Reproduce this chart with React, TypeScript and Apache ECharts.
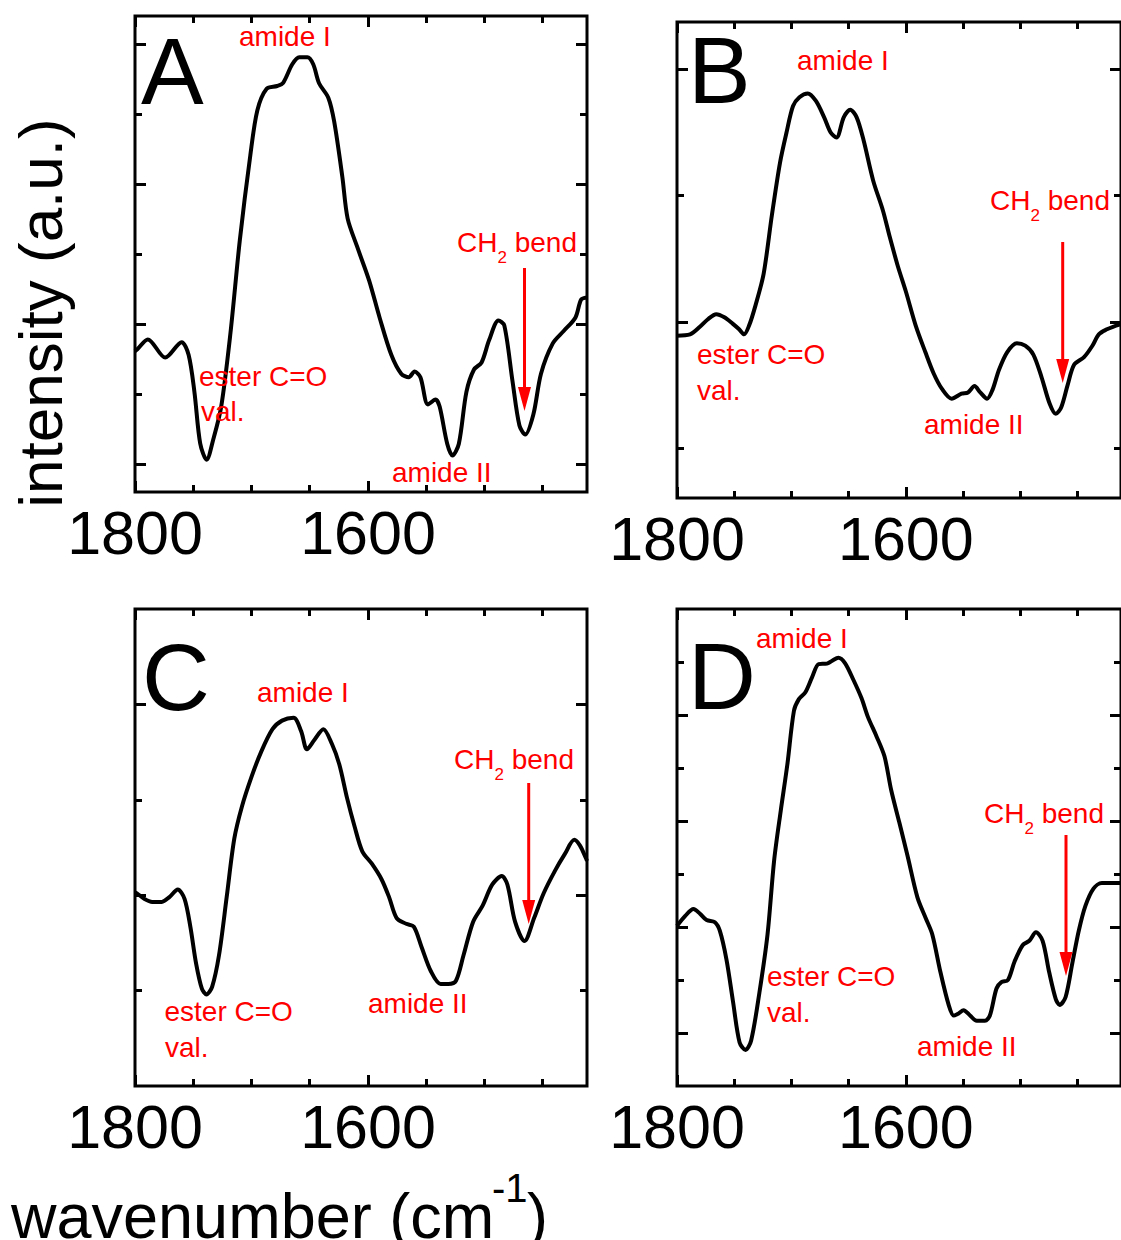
import React, { useEffect, useRef } from 'react';
import * as echarts from 'echarts';

// ---------- data (wavenumber cm^-1, intensity in tick units) ----------
const X_MIN = 1412;
const X_MAX = 1800;
const X_MAJOR_TICKS = [1600, 1800];
const X_MINOR_TICKS = [1450, 1500, 1550, 1650, 1700, 1750];
const X_LABELS = [1600, 1800];

const SPECTRUM_A: [number, number][] = [
  [1800, 1.61], [1798, 1.64], [1789, 1.78], [1774, 1.52], [1760, 1.74], [1754, 1.56],
  [1749, 1.03], [1744, 0.29], [1738.5, 0.06], [1733, 0.34], [1726, 0.82], [1718, 1.88],
  [1710, 3.2], [1701, 4.41], [1695, 5.05], [1687, 5.36], [1678, 5.4], [1673, 5.44],
  [1665, 5.71], [1659, 5.81], [1652, 5.81], [1647, 5.71], [1642, 5.44], [1634, 5.23],
  [1629, 4.89], [1622, 4.1], [1617.5, 3.51], [1609, 3.09], [1599, 2.62], [1590, 2.09],
  [1580, 1.56], [1571.5, 1.29], [1565, 1.24], [1560, 1.32], [1555, 1.24], [1548.5, 0.85],
  [1542, 0.92], [1538.5, 0.82], [1532, 0.29], [1527.5, 0.12], [1522, 0.29], [1515.5, 1.03],
  [1509, 1.35], [1502.5, 1.45], [1496, 1.77], [1488, 2.05], [1483, 1.98], [1476, 1.19],
  [1470, 0.55], [1465, 0.42], [1458, 0.71], [1451.5, 1.29], [1441.5, 1.72], [1432, 1.9],
  [1422, 2.09], [1417, 2.35], [1412, 2.38],
];

const SPECTRUM_B: [number, number][] = [
  [1800, 0.89], [1788.6, 0.9], [1780, 0.96], [1773, 1.02], [1765.7, 1.06], [1758.6, 1.035],
  [1751.4, 0.985], [1745.7, 0.94], [1741.4, 0.9], [1737, 0.97], [1731.4, 1.13], [1724.3, 1.38],
  [1717, 1.85], [1710, 2.26], [1704.3, 2.5], [1698.6, 2.71], [1693, 2.78], [1685.7, 2.81],
  [1678.6, 2.75], [1671.4, 2.62], [1665.7, 2.5], [1660.6, 2.46], [1654.3, 2.62], [1648.6, 2.68],
  [1643, 2.62], [1637, 2.44], [1628.6, 2.12], [1620, 1.88], [1614.3, 1.68], [1607, 1.44],
  [1600, 1.24], [1591.4, 0.97], [1583, 0.76], [1575.7, 0.59], [1568.6, 0.47], [1560, 0.39],
  [1551.4, 0.43], [1545.7, 0.44], [1540, 0.49], [1535, 0.44], [1529, 0.39], [1524.3, 0.46],
  [1518.6, 0.62], [1511.4, 0.76], [1503, 0.83], [1495.7, 0.81], [1488.6, 0.74], [1481.4, 0.56],
  [1474.3, 0.35], [1469, 0.27], [1464.3, 0.32], [1458.6, 0.5], [1453, 0.66], [1444.3, 0.72],
  [1437, 0.81], [1431.4, 0.9], [1424.3, 0.94], [1419, 0.96], [1412, 0.98],
];

const SPECTRUM_C: [number, number][] = [
  [1800, 2.03], [1798.4, 2.02], [1791.8, 1.96], [1785.2, 1.93], [1777, 1.93], [1770.5, 1.98],
  [1763.3, 2.06], [1757.4, 1.96], [1752.5, 1.67], [1747.5, 1.28], [1742.6, 1.02], [1738.7, 0.96],
  [1733.8, 1.04], [1727.9, 1.37], [1721.3, 1.98], [1714.8, 2.59], [1708.2, 2.93], [1700, 3.24],
  [1691.8, 3.5], [1682, 3.74], [1673.8, 3.83], [1663.9, 3.86], [1657.4, 3.72], [1652.4, 3.53],
  [1645.9, 3.63], [1638.3, 3.74], [1631.1, 3.59], [1624.6, 3.37], [1618, 3.02], [1611.5, 2.72],
  [1604.9, 2.46], [1596.7, 2.33], [1588.5, 2.17], [1581.9, 1.98], [1575.4, 1.76], [1567.2, 1.7],
  [1560.7, 1.67], [1554.1, 1.46], [1545.9, 1.2], [1537.7, 1.07], [1531.1, 1.07], [1524.6, 1.1],
  [1518, 1.37], [1509.8, 1.72], [1501.6, 1.89], [1493.4, 2.11], [1485.2, 2.2], [1480.3, 2.11],
  [1473.7, 1.72], [1465.6, 1.52], [1457.4, 1.76], [1449.2, 2.02], [1439.3, 2.26], [1431.1, 2.43],
  [1422.9, 2.58], [1418, 2.52], [1413, 2.39], [1412, 2.36],
];

const SPECTRUM_D: [number, number][] = [
  [1800, 3.02], [1792.8, 3.21], [1785.6, 3.34], [1779.9, 3.25], [1774.1, 3.13], [1766.9, 3.09],
  [1762.6, 2.93], [1756.8, 2.39], [1751.1, 1.6], [1745.3, 0.82], [1740.1, 0.68], [1735.2, 0.86],
  [1728, 1.76], [1720.9, 2.86], [1715.1, 4.26], [1709.3, 5.2], [1703.6, 6.06], [1697.8, 7.08],
  [1693.5, 7.3], [1687.8, 7.43], [1682, 7.71], [1676.2, 7.96], [1669, 7.97], [1664.7, 8.02],
  [1659, 8.08], [1653.2, 7.98], [1646, 7.67], [1638.8, 7.32], [1633.1, 6.96], [1625.9, 6.61],
  [1618.7, 6.22], [1612.9, 5.59], [1605.7, 4.97], [1598.5, 4.34], [1589.9, 3.56], [1582.7, 3.17],
  [1576.9, 2.86], [1569.8, 2.15], [1562.6, 1.53], [1558.2, 1.33], [1553.9, 1.37], [1549.6, 1.43],
  [1543.9, 1.33], [1538.1, 1.23], [1530.9, 1.23], [1526.6, 1.33], [1520.8, 1.84], [1516.5, 1.96],
  [1510.8, 2.0], [1505, 2.35], [1497.8, 2.66], [1492.1, 2.74], [1486.3, 2.9], [1480.5, 2.74],
  [1474.8, 2.15], [1469, 1.64], [1465.6, 1.53], [1460.4, 1.68], [1454.6, 2.31], [1448.9, 2.93],
  [1443.1, 3.4], [1435.9, 3.73], [1428.7, 3.83], [1416.4, 3.83], [1412, 3.83],
];

const Y_TICKS_A_MAJOR = [0, 2, 4, 6];
const Y_TICKS_A_MINOR = [1, 3, 5];
const Y_TICKS_B_MAJOR = [1, 3];
const Y_TICKS_B_MINOR = [0, 2];
const Y_TICKS_C_MAJOR = [2, 4];
const Y_TICKS_C_MINOR = [1, 3];
const Y_TICKS_D_MAJOR = [1, 3, 5, 7];
const Y_TICKS_D_MINOR = [2, 4, 6, 8];

const PANEL_LETTERS = ['A', 'B', 'C', 'D'];
const Y_TITLE = 'intensity (a.u.)';
const X_TITLE = 'wavenumber (cm';
const X_TITLE_SUP = '-1';

// ---------- layout / style ----------
const FONT = '"Liberation Sans", Arial, Helvetica, sans-serif';
const RED = '#ff0000';

const PANELS = [
  { data: SPECTRUM_A, grid: { left: 135, top: 16, width: 452, height: 476 }, yMin: -0.4, yMax: 6.4, major: Y_TICKS_A_MAJOR, minor: Y_TICKS_A_MINOR },
  { data: SPECTRUM_B, grid: { left: 677, top: 22, width: 452, height: 476 }, yMin: -0.397, yMax: 3.376, major: Y_TICKS_B_MAJOR, minor: Y_TICKS_B_MINOR },
  { data: SPECTRUM_C, grid: { left: 135, top: 609, width: 452, height: 477 }, yMin: 0, yMax: 5, major: Y_TICKS_C_MAJOR, minor: Y_TICKS_C_MINOR },
  { data: SPECTRUM_D, grid: { left: 677, top: 609, width: 452, height: 477 }, yMin: 0, yMax: 9, major: Y_TICKS_D_MAJOR, minor: Y_TICKS_D_MINOR },
];

function tick(values: number[], length: number) {
  return { show: true, inside: true, length, customValues: values, lineStyle: { color: '#000', width: 3 } };
}

function txt(text: string, x: number, y: number, size: number, color = RED, extra: any = {}) {
  return {
    type: 'text', x, y, silent: true, z: 10,
    style: {
      text, fill: color, fontSize: size, fontFamily: FONT, fontWeight: 'normal',
      textAlign: 'left', textVerticalAlign: 'middle', align: 'left', verticalAlign: 'middle',
    },
    ...extra,
  };
}

function ch2(x: number, y: number) {
  return [
    txt('CH', x, y, 28),
    txt('2', x + 40.4, y + 15, 17),
    txt('bend', x + 57.7, y, 28),
  ];
}

function arrow(x: number, yTop: number, yTip: number) {
  return [
    { type: 'line', silent: true, z: 10, shape: { x1: x, y1: yTop, x2: x, y2: yTip - 18 }, style: { stroke: RED, lineWidth: 3 } },
    { type: 'polygon', silent: true, z: 10, shape: { points: [[x - 6.5, yTip - 24], [x + 6.5, yTip - 24], [x, yTip]] }, style: { fill: RED } },
  ];
}

function buildOption() {
  const xAxes: any[] = [];
  const yAxes: any[] = [];
  const series: any[] = [];
  PANELS.forEach((p, i) => {
    const bx = {
      type: 'value', gridIndex: i, min: X_MIN, max: X_MAX, inverse: true,
      axisLine: { show: false, onZero: false }, splitLine: { show: false }, axisLabel: { show: false },
    };
    xAxes.push({
      ...bx, position: 'bottom', axisTick: tick(X_MAJOR_TICKS, 11),
      axisLabel: {
        show: true, customValues: X_LABELS, fontSize: 61, color: '#000', fontFamily: FONT,
        margin: 10, showMinLabel: true, showMaxLabel: true,
        formatter: (v: number) => String(Math.round(v)),
      },
    });
    xAxes.push({ ...bx, position: 'bottom', axisTick: tick(X_MINOR_TICKS, 7) });
    xAxes.push({ ...bx, position: 'top', axisTick: tick(X_MAJOR_TICKS, 11) });
    xAxes.push({ ...bx, position: 'top', axisTick: tick(X_MINOR_TICKS, 7) });

    const by = {
      type: 'value', gridIndex: i, min: p.yMin, max: p.yMax,
      axisLine: { show: false, onZero: false }, splitLine: { show: false }, axisLabel: { show: false },
    };
    yAxes.push({ ...by, position: 'left', axisTick: tick(p.major, 11) });
    yAxes.push({ ...by, position: 'left', axisTick: tick(p.minor, 7) });
    yAxes.push({ ...by, position: 'right', axisTick: tick(p.major, 11) });
    yAxes.push({ ...by, position: 'right', axisTick: tick(p.minor, 7) });

    series.push({
      type: 'line', xAxisIndex: 4 * i, yAxisIndex: 4 * i, data: p.data,
      symbol: 'none', showSymbol: false, smooth: 0.3, silent: true, z: 3,
      lineStyle: { color: '#000', width: 4 },
    });
  });

  const grids = PANELS.map((p) => ({
    ...p.grid, show: true, borderColor: '#000', borderWidth: 3, backgroundColor: 'transparent', containLabel: false,
  }));

  const elements: any[] = [
    // panel letters
    txt(PANEL_LETTERS[0], 141, 71, 94, '#000'),
    txt(PANEL_LETTERS[1], 688, 70, 94, '#000'),
    txt(PANEL_LETTERS[2], 142, 677, 94, '#000'),
    txt(PANEL_LETTERS[3], 688, 676, 94, '#000'),
    // axis titles
    {
      type: 'text', x: 40, y: 313, rotation: Math.PI / 2, silent: true,
      style: {
        text: Y_TITLE, fill: '#000', fontSize: 62, fontFamily: FONT,
        textAlign: 'center', textVerticalAlign: 'middle', align: 'center', verticalAlign: 'middle',
      },
    },
    txt(X_TITLE, 11, 1216, 63, '#000'),
    txt(X_TITLE_SUP, 492, 1188, 40, '#000'),
    txt(')', 527, 1216, 63, '#000'),
    // panel A annotations
    txt('amide I', 239, 36, 28),
    ...ch2(457, 242),
    ...arrow(524.5, 268, 411),
    txt('ester C=O', 199, 376, 28),
    txt('val.', 201, 411, 28),
    txt('amide II', 392, 472, 28),
    // panel B
    txt('amide I', 797, 60, 28),
    ...ch2(990, 200),
    ...arrow(1062.7, 242, 383),
    txt('ester C=O', 697, 354, 28),
    txt('val.', 697, 390, 28),
    txt('amide II', 924, 424, 28),
    // panel C
    txt('amide I', 257, 692, 28),
    ...ch2(454, 759),
    ...arrow(528.7, 783, 924),
    txt('ester C=O', 164.5, 1011, 28),
    txt('val.', 165, 1047, 28),
    txt('amide II', 368, 1003, 28),
    // panel D
    txt('amide I', 756, 638, 28),
    ...ch2(984, 813),
    ...arrow(1066, 835, 976),
    txt('ester C=O', 767, 976, 28),
    txt('val.', 767, 1012, 28),
    txt('amide II', 917, 1046, 28),
  ];

  return {
    animation: false,
    backgroundColor: '#fff',
    textStyle: { fontFamily: FONT },
    grid: grids,
    xAxis: xAxes,
    yAxis: yAxes,
    series,
    graphic: { elements },
  };
}

export default function App() {
  const ref = useRef<HTMLDivElement>(null);
  useEffect(() => {
    if (!ref.current) return;
    const chart = echarts.init(ref.current, null, { renderer: 'svg' });
    chart.setOption(buildOption() as any);
    return () => chart.dispose();
  }, []);
  return (
    <div
      ref={ref}
      style={{ position: 'absolute', left: 0, top: 0, width: 1121, height: 1240, background: '#fff' }}
    />
  );
}
